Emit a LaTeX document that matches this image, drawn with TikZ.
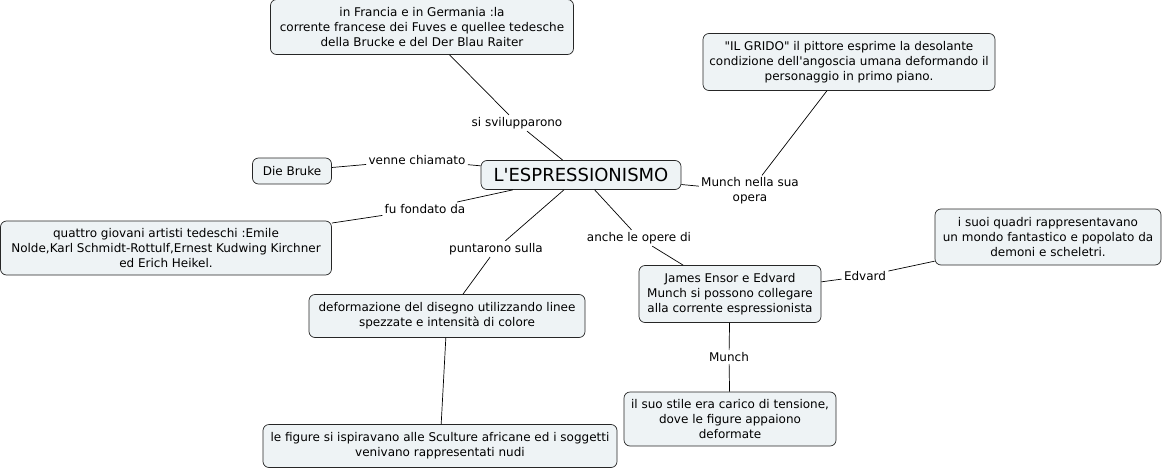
\documentclass[tikz,border=0pt]{standalone}
\usepackage{fontspec}
\setmainfont{DejaVu Sans}[Ligatures=TeXOff]
\definecolor{boxfill}{HTML}{EEF3F5}
\tikzset{concept/.style={draw=black!85,fill=boxfill,rounded corners=6pt,align=center,inner sep=2pt,font=\fontsize{12}{15}\selectfont},
  link/.style={align=center,inner sep=2pt,font=\fontsize{12}{15}\selectfont}}

\begin{document}
\begin{tikzpicture}[x=1pt,y=-1pt,line width=.7pt]
\useasboundingbox (0,0) rectangle (1164,471);
% concetti
\node[concept,font=\fontsize{18}{20}\selectfont,minimum width=200pt,minimum height=29pt] (espr) at (581,175) {L'ESPRESSIONISMO};
\node[concept,minimum width=303pt,minimum height=55pt] (fuves) at (422,27) {in Francia e in Germania :la\\corrente francese dei Fuves e quellee tedesche\\della Brucke e del Der Blau Raiter};
\node[concept,minimum width=292pt,minimum height=57pt] (grido) at (849,62) {"IL GRIDO" il pittore esprime la desolante\\condizione dell'angoscia umana deformando il\\personaggio in primo piano.};
\node[concept,minimum width=79pt,minimum height=26pt] (bruke) at (292,171) {Die Bruke};
\node[concept,minimum width=331pt,minimum height=54pt] (artisti) at (166,248) {quattro giovani artisti tedeschi :Emile\\Nolde,Karl Schmidt-Rottulf,Ernest Kudwing Kirchner\\ed Erich Heikel.};
\node[concept,minimum width=226pt,minimum height=56pt] (quadri) at (1048,237) {i suoi quadri rappresentavano\\un mondo fantastico e popolato da\\demoni e scheletri.};
\node[concept,minimum width=182pt,minimum height=57pt] (ensor) at (730,294) {James Ensor e Edvard\\Munch si possono collegare\\alla corrente espressionista};
\node[concept,minimum width=276pt,minimum height=43pt] (deform) at (447,316) {deformazione del disegno utilizzando linee\\spezzate e intensità di colore};
\node[concept,minimum width=212pt,minimum height=54pt] (stile) at (730,419) {il suo stile era carico di tensione,\\dove le figure appaiono\\deformate};
\node[concept,minimum width=354pt,minimum height=43pt] (figure) at (440,446) {le figure si ispiravano alle Sculture africane ed i soggetti\\venivano rappresentati nudi};
% frasi legame
\node[link] (svil) at (517,123) {si svilupparono};
\node[link] (chiam) at (417,160) {venne chiamato};
\node[link] (munch1) at (750,191) {Munch nella sua\\opera};
\node[link] (fond) at (425,209) {fu fondato da};
\node[link] (punt) at (496,249) {puntarono sulla};
\node[link] (anche) at (639,238) {anche le opere di};
\node[link] (edv) at (865,276) {Edvard};
\node[link] (munch2) at (729,357) {Munch};
% collegamenti
\draw (fuves) -- (svil);\draw (svil) -- (espr);
\draw (bruke) -- (chiam);\draw (chiam) -- (espr);
\draw (espr) -- (munch1);\draw (munch1) -- (grido);
\draw (espr) -- (fond);\draw (fond) -- (artisti);
\draw (espr) -- (punt);\draw (punt) -- (deform);
\draw (espr) -- (anche);\draw (anche) -- (ensor);
\draw (ensor) -- (edv);\draw (edv) -- (quadri);
\draw (ensor) -- (munch2);\draw (munch2) -- (stile);
\draw (deform) -- (figure);
\end{tikzpicture}
\end{document}
